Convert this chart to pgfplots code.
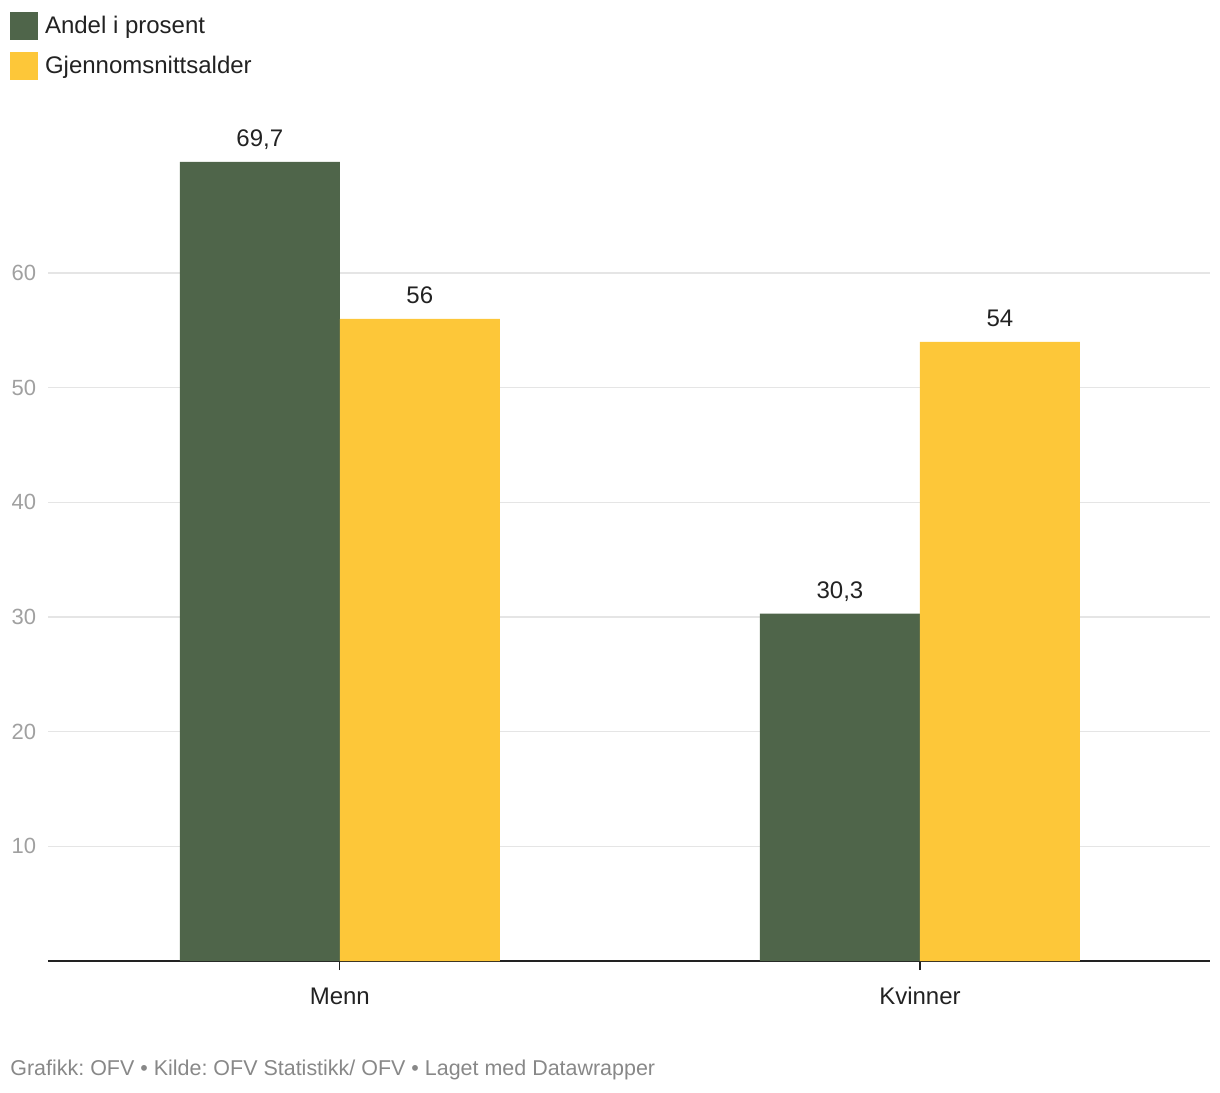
\documentclass[border=0pt]{standalone}
\usepackage{pgfplots}
\pgfplotsset{compat=1.18}
\usepackage{fontspec}
\setmainfont{Liberation Sans}
\frenchspacing
\definecolor{cgreen}{RGB}{79,101,74}
\definecolor{cyellow}{RGB}{253,199,57}
\definecolor{ctick}{RGB}{160,160,160}
\definecolor{cgrid}{RGB}{229,229,229}
\definecolor{cfoot}{RGB}{136,136,136}
\definecolor{ctext}{RGB}{34,34,34}
\begin{document}
\begin{tikzpicture}
\useasboundingbox (0,0) rectangle (610pt,546pt);
\begin{axis}[
  at={(24pt,65.5pt)}, anchor=south west,
  width=581pt, height=412.8pt, scale only axis,
  xmin=-0.503, xmax=1.5, ymin=0, ymax=72,
  axis x line*=bottom, axis y line*=left,
  x axis line style={-, line width=1pt, color=ctext},
  y axis line style={draw=none},
  xtick={0,1}, xticklabels={Menn,Kvinner},
  ytick={10,20,30,40,50,60},
  ymajorgrids, grid style={cgrid, line width=0.75pt},
  tick align=outside, major tick length=4.5pt,
  xtick style={color=ctext, line width=0.6pt},
  ytick style={draw=none},
  /pgf/number format/assume math mode=true,
  xticklabel style={font=\fontsize{12}{14}\selectfont, text=ctext, anchor=base, inner sep=0pt, yshift=-17.3pt},
  yticklabel style={font=\fontsize{11}{13}\selectfont, text=ctick, anchor=east, inner sep=0pt, xshift=-1.3pt},
  ybar, bar width=80pt,
  nodes near coords={\pgfmathprintnumber[use comma]{\pgfplotspointmeta}},
  nodes near coords style={font=\fontsize{12}{14}\selectfont, text=ctext, anchor=base, inner sep=0pt, yshift=7.5pt},
  legend style={at={(-0.0327,1.1495)}, anchor=north west, draw=none, fill=none, inner sep=0pt, outer sep=0pt, row sep=6pt, column sep=3.5pt, font=\fontsize{12}{14}\selectfont, text=ctext, nodes={inner sep=0pt}},
  legend cell align=left,
]
\addplot[fill=cgreen, draw=none, bar shift=-40pt, legend image code/.code={\fill[cgreen] (0pt,-6.9pt) rectangle (14pt,7.1pt);}] coordinates {(0,69.7) (1,30.3)};
\addlegendentry{Andel i prosent}
\addplot[fill=cyellow, draw=none, bar shift=40pt, legend image code/.code={\fill[cyellow] (0pt,-6.9pt) rectangle (14pt,7.1pt);}] coordinates {(0,56) (1,54)};
\addlegendentry{Gjennomsnittsalder}
\end{axis}
\node[anchor=base west, inner sep=0pt, font=\fontsize{10.73}{13}\selectfont, text=cfoot] at (5pt,8.1pt) {Grafikk: OFV • Kilde: OFV Statistikk/ OFV • Laget med Datawrapper};
\end{tikzpicture}
\end{document}
